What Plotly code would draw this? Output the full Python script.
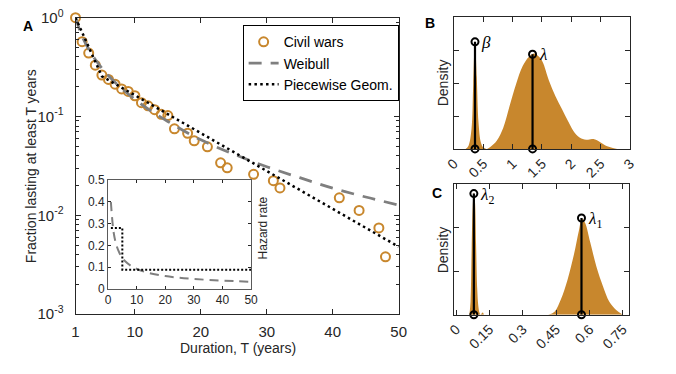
import plotly.graph_objects as go

W, H = 676, 374

# ---------------- data ----------------
T_obs = [1, 2, 3, 4, 5, 6, 7, 8, 9, 10, 11, 12, 13, 14, 15, 16, 18, 19, 21, 23, 24, 28, 31, 32, 41, 44, 47, 48]
F_obs = [1.0, 0.571, 0.438, 0.33, 0.262, 0.237, 0.212, 0.19, 0.179, 0.162, 0.138, 0.128, 0.117, 0.105,
         0.102, 0.075, 0.0676, 0.0567, 0.0493, 0.0339, 0.0302, 0.026, 0.0224, 0.0189, 0.015, 0.0112, 0.00744, 0.0038]

T_weib = [1, 2, 3, 4, 5, 6, 8, 10, 12, 15, 20, 25, 30, 35, 40, 45, 50]
F_weib = [1.0, 0.648, 0.479, 0.377, 0.308, 0.258, 0.192, 0.149, 0.119, 0.089, 0.058, 0.0415, 0.031, 0.024, 0.0188, 0.0153, 0.0127]

T_geom = [1, 2, 3, 4, 5, 50]
F_geom = [1.0, 0.71, 0.505, 0.359, 0.255, 0.0048]

t_haz_weib = [1, 2, 3, 4, 5, 6, 8, 10, 12, 15, 20, 25, 30, 35, 40, 45, 50]
h_weib = [0.40, 0.257, 0.198, 0.165, 0.143, 0.127, 0.106, 0.0916, 0.0815, 0.0707, 0.0588, 0.051, 0.0454, 0.0411, 0.0377, 0.035, 0.0327]
t_haz_geom = [1, 5, 5, 50]
h_geom = [0.28, 0.28, 0.088, 0.088]

# Panel B posterior densities
beta_x = [0.2, 0.25, 0.3, 0.33, 0.36, 0.39, 0.42, 0.46, 0.5, 0.55]
beta_d = [0.0, 0.1, 0.6, 2.0, 3.3, 2.2, 0.8, 0.2, 0.05, 0.0]
lam_x = [0.565, 0.62, 0.73, 0.84, 0.95, 1.06, 1.17, 1.28, 1.37, 1.45, 1.51, 1.62, 1.73, 1.84, 1.95,
         2.06, 2.17, 2.28, 2.39, 2.5, 2.61, 2.78]
lam_d = [0.0, 0.06, 0.25, 0.64, 1.32, 1.99, 2.53, 2.82, 2.92, 2.82, 2.67, 2.09, 1.61, 1.22, 0.83,
         0.49, 0.32, 0.28, 0.30, 0.2, 0.08, 0.0]
beta_est, beta_peak = 0.36, 3.28
lam_est, lam_peak = 1.34, 2.9

# Panel C posterior densities
lam2_x = [0.06, 0.065, 0.07, 0.075, 0.08, 0.085, 0.09, 0.095, 0.1, 0.105, 0.11, 0.12, 0.125]
lam2_d = [0.0, 0.3, 1.5, 2.5, 2.8, 2.6, 1.6, 0.6, 0.2, 0.05, 0.0, 0.05, 0.0]
lam1_x = [0.414, 0.443, 0.472, 0.501, 0.53, 0.552, 0.566, 0.581, 0.603, 0.632, 0.661, 0.69, 0.72, 0.75]
lam1_d = [0.0, 0.07, 0.36, 0.8, 1.38, 1.92, 2.21, 2.1, 1.67, 1.09, 0.65, 0.29, 0.11, 0.0]
lam2_est, lam2_peak = 0.08, 2.78
lam1_est, lam1_peak = 0.564, 2.22

y_main_ticks = [0.001, 0.01, 0.1, 1]
y_main_text = ["10<sup>-3</sup>", "10<sup>-2</sup>", "10<sup>-1</sup>", "10<sup>0</sup>"]
x_main_ticks = [1, 10, 20, 30, 40, 50]
c_ticks = [0, 0.15, 0.3, 0.45, 0.6, 0.75]
c_text = ["0", "0.15", "0.3", "0.45", "0.6", "0.75"]

# ---------------- style ----------------
ORANGE = "#C8872D"
AX = "#262626"
FONT = "Liberation Sans, Arial, sans-serif"

def fx(px):
    return px / W

def fy(py):
    return 1 - py / H

fig = go.Figure()

# main panel
fig.add_trace(go.Scatter(x=T_obs, y=F_obs, mode="markers", name="Civil wars",
                         marker=dict(symbol="circle-open", size=9, color=ORANGE, line=dict(width=2, color=ORANGE)),
                         cliponaxis=False, xaxis="x", yaxis="y"))
fig.add_trace(go.Scatter(x=T_weib, y=F_weib, mode="lines", name="Weibull", line_shape="spline",
                         line=dict(color="#7f7f7f", width=2.8, dash="13px,9px"), xaxis="x", yaxis="y"))
fig.add_trace(go.Scatter(x=T_geom, y=F_geom, mode="lines", name="Piecewise Geom.",
                         line=dict(color="black", width=2.5, dash="2.5px,3.3px"), xaxis="x", yaxis="y"))

# inset
fig.add_trace(go.Scatter(x=t_haz_weib, y=h_weib, mode="lines", showlegend=False, line_shape="spline",
                         line=dict(color="#7f7f7f", width=2, dash="9px,6px"), xaxis="x2", yaxis="y2"))
fig.add_trace(go.Scatter(x=t_haz_geom, y=h_geom, mode="lines", showlegend=False,
                         line=dict(color="black", width=2, dash="2px,2px"), xaxis="x2", yaxis="y2"))

# panel B
for xs, ds in [(beta_x, beta_d), (lam_x, lam_d)]:
    fig.add_trace(go.Scatter(x=xs, y=ds, mode="lines", fill="tozeroy", fillcolor=ORANGE, line_shape="spline",
                             line=dict(width=0, color=ORANGE), showlegend=False, xaxis="x3", yaxis="y3"))
for est, pk in [(beta_est, beta_peak), (lam_est, lam_peak)]:
    fig.add_trace(go.Scatter(x=[est, est], y=[0, pk], mode="lines+markers", showlegend=False, cliponaxis=False,
                             line=dict(color="black", width=2.2),
                             marker=dict(symbol="circle-open", size=7, color="black", line=dict(width=2, color="black")),
                             xaxis="x3", yaxis="y3"))

# panel C
for xs, ds in [(lam2_x, lam2_d), (lam1_x, lam1_d)]:
    fig.add_trace(go.Scatter(x=xs, y=ds, mode="lines", fill="tozeroy", fillcolor=ORANGE, line_shape="spline",
                             line=dict(width=0, color=ORANGE), showlegend=False, xaxis="x4", yaxis="y4"))
for est, pk in [(lam2_est, lam2_peak), (lam1_est, lam1_peak)]:
    fig.add_trace(go.Scatter(x=[est, est], y=[0, pk], mode="lines+markers", showlegend=False, cliponaxis=False,
                             line=dict(color="black", width=2.2),
                             marker=dict(symbol="circle-open", size=7, color="black", line=dict(width=2, color="black")),
                             xaxis="x4", yaxis="y4"))

common = dict(showline=True, linecolor=AX, linewidth=1, mirror="ticks", ticks="inside", tickcolor=AX,
              ticklen=5, showgrid=False, zeroline=False,
              tickfont=dict(family=FONT, size=15, color=AX))

minor_vals = [m * 10 ** e for e in (-3, -2, -1) for m in range(2, 10)]

fig.update_layout(
    width=W, height=H, margin=dict(l=0, r=0, t=0, b=0),
    paper_bgcolor="white", plot_bgcolor="white",
    font=dict(family=FONT, color=AX),
    showlegend=True,
    legend=dict(x=fx(239), y=fy(15), xanchor="left", yanchor="top", bgcolor="white",
                bordercolor="black", borderwidth=1, font=dict(family=FONT, size=14, color="black"),
                tracegroupgap=0, itemwidth=30),
    xaxis=dict(common, domain=[fx(67.3), fx(399.3)], range=[1, 50], tickvals=x_main_ticks, anchor="y",
               ticklabelstandoff=4),
    yaxis=dict(common, domain=[fy(319.3), fy(7)], type="log", range=[-3, 0], tickvals=y_main_ticks,
               ticktext=y_main_text, anchor="x", ticklabelstandoff=8,
               minor=dict(ticks="inside", ticklen=3, tickcolor=AX, tickvals=minor_vals)),
    xaxis2=dict(common, domain=[fx(100.7), fx(247.7)], range=[0, 50], dtick=10, anchor="y2",
                linecolor="#5a5a5a", ticklen=3, tickfont=dict(family=FONT, size=12, color=AX)),
    yaxis2=dict(common, domain=[fy(292.7), fy(178.3)], range=[0, 0.5], dtick=0.1, anchor="x2",
                linecolor="#5a5a5a", ticklen=3, tickfont=dict(family=FONT, size=12, color=AX)),
    xaxis3=dict(common, domain=[fx(456), fx(637)], range=[0, 3], dtick=0.5, tickangle=-45, anchor="y3",
                tickfont=dict(family=FONT, size=14, color=AX)),
    yaxis3=dict(common, domain=[fy(145.3), fy(6)], range=[0, 4.05], tickvals=[1, 2, 3],
                showticklabels=False, anchor="x3"),
    xaxis4=dict(common, domain=[fx(456), fx(636)], range=[-0.01, 0.778], tickvals=c_ticks, ticktext=c_text,
                tickangle=-45, anchor="y4", tickfont=dict(family=FONT, size=14, color=AX)),
    yaxis4=dict(common, domain=[fy(320), fy(182.3)], range=[0, 3], tickvals=[1, 2],
                showticklabels=False, anchor="x4"),
)

def ann(text, x, y, size=14, angle=0, bold=False, family=FONT, xanchor="center", color=AX):
    if bold:
        text = "<b>" + text + "</b>"
    return dict(text=text, x=fx(x), y=fy(y), xref="paper", yref="paper", showarrow=False,
                textangle=angle, xanchor=xanchor, yanchor="middle",
                font=dict(family=family, size=size, color=color))

SERIF = "Liberation Serif, Times New Roman, serif"
fig.update_layout(annotations=[
    ann("Fraction lasting at least T years", 21, 163, size=14, angle=-90),
    ann("Duration, T (years)", 234, 355, size=14),
    ann("Hazard rate", 260, 229, size=12, angle=-90),
    ann("Density", 445, 76, size=14, angle=-90),
    ann("Density", 445, 252, size=14, angle=-90),
    ann("A", 18.5, 15.5, size=14, bold=True, color="black"),
    ann("B", 432, 13, size=14, bold=True, color="black"),
    ann("C", 438.5, 191.5, size=14, bold=True, color="black"),
    ann("<i>β</i>", 482, 33, size=17, family=SERIF, xanchor="left", color="black"),
    ann("<i>λ</i>", 541, 46, size=17, family=SERIF, xanchor="left", color="black"),
    ann("<i>λ</i><sub>2</sub>", 481, 195, size=17, family=SERIF, xanchor="left", color="black"),
    ann("<i>λ</i><sub>1</sub>", 592, 220, size=17, family=SERIF, xanchor="left", color="black"),
])

fig.write_html("out.html", config={"displayModeBar": False},
               post_script="document.body.style.margin='0';")
